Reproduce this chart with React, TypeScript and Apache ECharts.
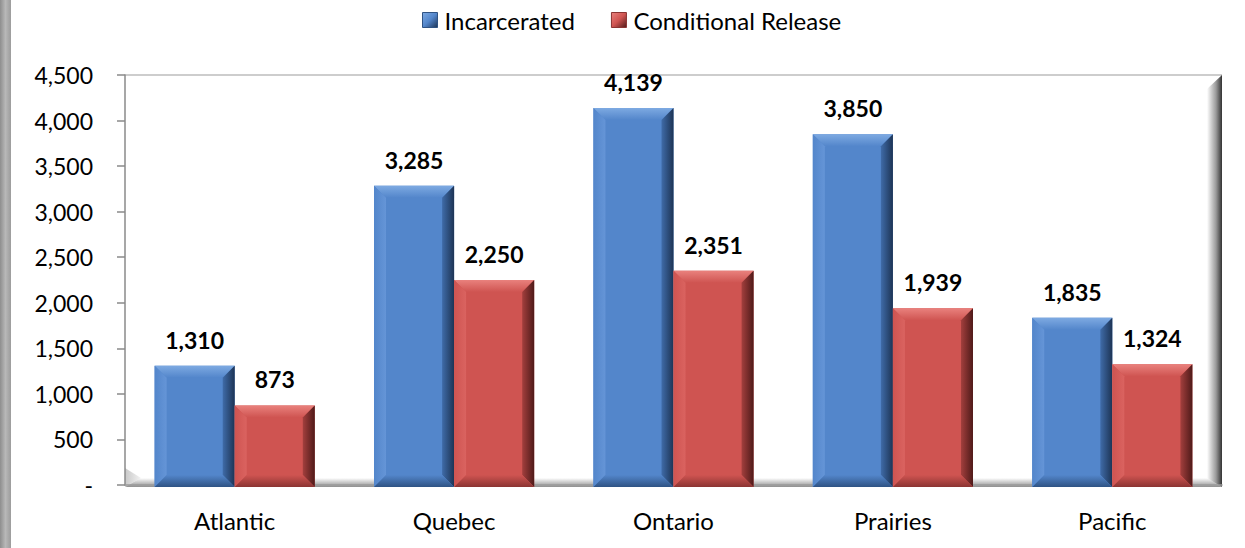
import React, { useEffect, useRef } from "react";
import * as echarts from "echarts";

const categories = ["Atlantic", "Quebec", "Ontario", "Prairies", "Pacific"];
const incarcerated = [1310, 3285, 4139, 3850, 1835];
const conditionalRelease = [873, 2250, 2351, 1939, 1324];
const seriesNames = ["Incarcerated", "Conditional Release"];

const FONT = "Lato";

const palettes = [
  { face: "#5386cb", top: "#7eaae2", left: "#6595d7", rightA: "#3f6ba8", rightB: "#1d3455", bottom: "#2f5384", legend: "#4f81bd" },
  { face: "#cf5451", top: "#e9817d", left: "#da6360", rightA: "#a33f3d", rightB: "#4f1a19", bottom: "#8b3432", legend: "#c0504d" },
];

function fmt(v: number) {
  return v.toLocaleString("en-US");
}

function makeRenderItem(sIdx: number) {
  const p = palettes[sIdx];
  return (params: any, api: any) => {
    const cat = api.value(0);
    const val = api.value(1);
    const top = api.coord([cat, val]);
    const base = api.coord([cat, 0]);
    const catW = api.size([1, 0])[0];
    const w = catW * 0.365;
    const x = sIdx === 0 ? top[0] - w : top[0];
    const y = top[1];
    const h = base[1] - top[1] + 2;
    const b = Math.min(12, h / 2, w / 2);
    const grad = (x1: number, y1: number, x2: number, y2: number, c1: string, c2: string) =>
      new echarts.graphic.LinearGradient(x1, y1, x2, y2, [
        { offset: 0, color: c1 },
        { offset: 1, color: c2 },
      ]);
    return {
      type: "group",
      children: [
        {
          type: "rect",
          shape: { x: x, y: y, width: w, height: h },
          style: { fill: p.face },
        },
        {
          type: "polygon",
          shape: { points: [[x, y], [x + w, y], [x + w - b, y + b], [x + b, y + b]] },
          style: { fill: grad(0, 0, 0, 1, p.top, p.face) },
        },
        {
          type: "polygon",
          shape: { points: [[x, y], [x + b, y + b], [x + b, y + h - b], [x, y + h]] },
          style: { fill: grad(0, 0, 1, 0, p.face, p.left) },
        },
        {
          type: "polygon",
          shape: { points: [[x + w, y], [x + w, y + h], [x + w - b, y + h - b], [x + w - b, y + b]] },
          style: { fill: grad(0, 0, 1, 0, p.rightA, p.rightB) },
        },
        {
          type: "polygon",
          shape: { points: [[x, y + h], [x + b, y + h - b], [x + w - b, y + h - b], [x + w, y + h]] },
          style: { fill: grad(0, 0, 0, 1, p.face, p.bottom) },
        },
        {
          type: "text",
          style: {
            text: fmt(val),
            x: x + w / 2,
            y: y - 26,
            align: "center",
            verticalAlign: "middle",
            font: `bold 23px ${FONT}`,
            fill: "#000",
          },
        },
      ],
    };
  };
}

export default function App() {
  const ref = useRef<HTMLDivElement>(null);
  useEffect(() => {
    if (!ref.current) return;
    const chart = echarts.init(ref.current, null, { renderer: "svg" });
    const dataSets = [incarcerated, conditionalRelease];
    const option: any = {
      animation: false,
      backgroundColor: "#ffffff",
      textStyle: { fontFamily: FONT },
      legend: {
        left: 422,
        top: 8,
        padding: 0,
        itemWidth: 15,
        itemHeight: 15,
        itemGap: 36,
        icon: "rect",
        textStyle: { fontSize: 24, fontFamily: FONT, color: "#000", padding: [0, 0, 0, 2] },
        data: seriesNames.map((n, i) => ({
          name: n,
          itemStyle: {
            color: new echarts.graphic.LinearGradient(0, 0, 1, 1, [
              { offset: 0, color: palettes[i].top },
              { offset: 0.5, color: palettes[i].face },
              { offset: 1, color: palettes[i].rightB },
            ]),
            borderColor: palettes[i].bottom,
            borderWidth: 1,
          },
        })),
      },
      grid: { left: 125, right: 23, top: 75, bottom: 63, containLabel: false },
      xAxis: {
        type: "category",
        data: categories,
        axisLine: { show: true, lineStyle: { color: "#9a9a9a", width: 1.5 } },
        axisTick: { show: false },
        axisLabel: { fontSize: 24, fontFamily: FONT, color: "#000", margin: 23 },
        splitLine: { show: false },
      },
      yAxis: {
        type: "value",
        min: 0,
        max: 4500,
        interval: 500,
        axisLine: { show: true, lineStyle: { color: "#8a8a8a", width: 1.5 } },
        axisTick: { show: true, length: 8, lineStyle: { color: "#8a8a8a", width: 1.5 } },
        axisLabel: {
          fontSize: 23,
          fontFamily: FONT,
          color: "#000",
          margin: 32,
          formatter: (v: number) => (v === 0 ? "-" : fmt(v)),
        },
        splitLine: { show: false },
      },
      graphic: [
        {
          type: "rect",
          z: 0,
          shape: { x: 0, y: 0, width: 11, height: 548 },
          style: {
            fill: new echarts.graphic.LinearGradient(0, 0, 1, 0, [
              { offset: 0, color: "#8e8e8e" },
              { offset: 0.5, color: "#b8b8b8" },
              { offset: 1, color: "#9c9c9c" },
            ]),
          },
        },
        {
          type: "line",
          z: 0,
          shape: { x1: 125, y1: 75, x2: 1222, y2: 75 },
          style: { stroke: "#bdbdbd", lineWidth: 1.5 },
        },
        {
          type: "polygon",
          z: 0,
          shape: { points: [[1207, 89], [1222, 75], [1222, 487], [1207, 479]] },
          style: {
            fill: new echarts.graphic.LinearGradient(0, 0, 1, 0, [
              { offset: 0, color: "#ffffff" },
              { offset: 0.6, color: "#9a9a9a" },
              { offset: 1, color: "#333333" },
            ]),
          },
        },
        {
          type: "polygon",
          z: 0,
          shape: { points: [[125, 487], [140, 478], [1207, 478], [1222, 487]] },
          style: {
            fill: new echarts.graphic.LinearGradient(0, 0, 0, 1, [
              { offset: 0, color: "#ffffff" },
              { offset: 1, color: "#8f8f8f" },
            ]),
          },
        },
        {
          type: "polygon",
          z: 0,
          shape: { points: [[125, 468], [141, 478], [125, 487]] },
          style: {
            fill: new echarts.graphic.LinearGradient(0, 0, 1, 0, [
              { offset: 0, color: "#c8c8c8" },
              { offset: 1, color: "#f2f2f2" },
            ]),
          },
        },
      ],
      series: dataSets.map((arr, i) => ({
        type: "custom",
        name: seriesNames[i],
        itemStyle: { color: palettes[i].legend },
        encode: { x: 0, y: 1 },
        data: arr.map((v, ci) => [ci, v]),
        renderItem: makeRenderItem(i),
        clip: false,
      })),
    };
    chart.setOption(option);
    return () => chart.dispose();
  }, []);
  return (
    <div
      ref={ref}
      style={{ position: "absolute", left: 0, top: 0, width: 1245, height: 548 }}
    />
  );
}
